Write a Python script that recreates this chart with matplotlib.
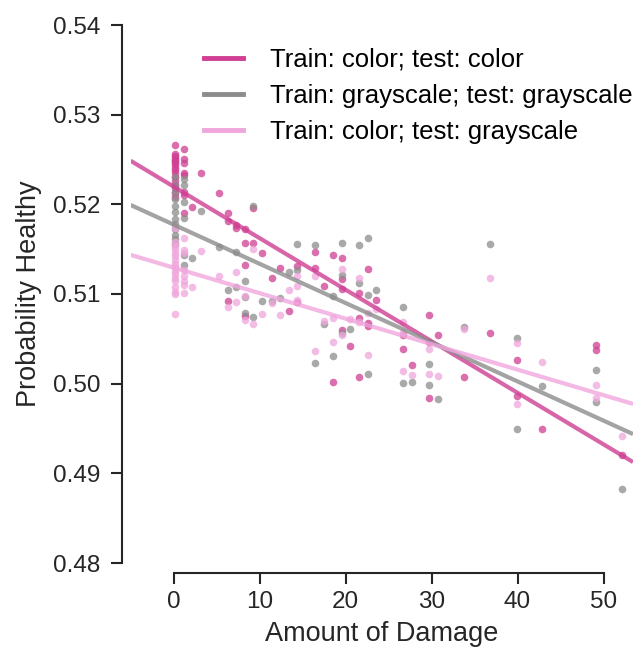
import numpy as np
import matplotlib
matplotlib.use("Agg")
import matplotlib.pyplot as plt
from matplotlib.lines import Line2D

# ---------------- data ----------------
labels = ["Train: color; test: color",
          "Train: grayscale; test: grayscale",
          "Train: color; test: grayscale"]

cc_x = [0.2]*17 + [1.2]*8 + [2.2, 3.2, 5.3, 6.3, 6.3, 6.3, 7.3, 7.3, 8.3, 8.3, 8.3, 8.3,
        9.3, 9.3, 10.3, 11.4, 12.4, 13.4, 14.4, 14.4, 16.5, 16.5, 17.5, 18.5, 18.5,
        19.6, 19.6, 19.6, 19.6, 20.5, 21.6, 21.6, 21.6, 22.6, 22.6, 22.6, 23.6,
        26.7, 26.7, 27.7, 29.7, 29.7, 29.7, 30.7, 33.8, 36.8, 39.9, 39.9, 42.9,
        49.1, 49.1, 52.1]
cc_y = [0.5266, 0.5256, 0.5254, 0.5252, 0.5250, 0.5248, 0.5246, 0.5244, 0.5241,
        0.5238, 0.5235, 0.5230, 0.5226, 0.5222, 0.5218, 0.5213, 0.5208,
        0.5262, 0.5251, 0.5246, 0.5235, 0.5233, 0.5214, 0.5210, 0.5190,
        0.5197, 0.5235, 0.5213, 0.5190, 0.5181, 0.5092, 0.5177, 0.5174, 0.5172,
        0.5157, 0.5132, 0.5075, 0.5196, 0.5157, 0.5146, 0.5118, 0.5129, 0.5081,
        0.5131, 0.5091, 0.5147, 0.5129, 0.5109, 0.5143, 0.5002, 0.5140, 0.5117,
        0.5106, 0.5060, 0.5042, 0.5101, 0.5073, 0.5007, 0.5128, 0.5068, 0.5064,
        0.5093, 0.5054, 0.5039, 0.5021, 0.5077, 0.5047, 0.4984, 0.5054, 0.5007,
        0.5057, 0.5026, 0.4986, 0.4950, 0.5043, 0.5038, 0.4920]

gg_x = [0.2]*12 + [1.2]*6 + [2.2, 3.2, 5.3, 6.3, 7.3, 7.3, 8.3, 8.3, 8.3, 9.3, 9.3,
        10.3, 11.4, 12.4, 13.4, 14.4, 14.4, 16.5, 16.5, 17.5, 18.5, 18.5, 19.6,
        19.6, 19.6, 20.5, 21.6, 21.6, 22.6, 22.6, 22.6, 23.6, 26.7, 26.7, 27.7,
        29.7, 29.7, 30.7, 33.8, 36.8, 39.9, 39.9, 42.9, 49.1, 49.1, 52.1]
gg_y = [0.5230, 0.5222, 0.5214, 0.5206, 0.5198, 0.5191, 0.5184, 0.5178, 0.5172,
        0.5166, 0.5161, 0.5156,
        0.5228, 0.5222, 0.5203, 0.5185, 0.5143, 0.5132,
        0.5140, 0.5193, 0.5152, 0.5104, 0.5147, 0.5108, 0.5114, 0.5097, 0.5079,
        0.5198, 0.5074, 0.5092, 0.5092, 0.5095, 0.5124, 0.5156, 0.5127, 0.5155,
        0.5023, 0.5067, 0.5098, 0.5031, 0.5157, 0.5121, 0.5056, 0.5061, 0.5155,
        0.5112, 0.5162, 0.5099, 0.5011, 0.5105, 0.5086, 0.5001, 0.5002, 0.5022,
        0.4999, 0.4983, 0.5063, 0.5156, 0.5051, 0.4950, 0.4997, 0.5015, 0.4980,
        0.4883]

cg_x = [0.2]*17 + [1.2]*8 + [2.2, 3.2, 5.3, 6.3, 7.3, 7.3, 8.3, 8.3, 9.3, 9.3, 10.3,
        11.4, 12.4, 13.4, 14.4, 14.4, 14.4, 16.5, 16.5, 17.5, 18.5, 18.5, 19.6,
        19.6, 20.5, 21.6, 21.6, 22.6, 22.6, 23.6, 26.7, 26.7, 26.7, 27.7, 29.7,
        29.7, 30.7, 33.8, 36.8, 39.9, 39.9, 42.9, 49.1, 49.1, 52.1]
cg_y = [0.5174, 0.5158, 0.5154, 0.5150, 0.5146, 0.5142, 0.5138, 0.5134, 0.5130,
        0.5126, 0.5122, 0.5118, 0.5114, 0.5108, 0.5102, 0.5100, 0.5078,
        0.5162, 0.5149, 0.5146, 0.5127, 0.5120, 0.5115, 0.5110, 0.5101,
        0.5108, 0.5148, 0.5120, 0.5086, 0.5124, 0.5091, 0.5098, 0.5071, 0.5150,
        0.5067, 0.5078, 0.5090, 0.5077, 0.5104, 0.5120, 0.5109, 0.5093, 0.5120,
        0.5036, 0.5070, 0.5073, 0.5047, 0.5128, 0.5054, 0.5072, 0.5118, 0.5069,
        0.5079, 0.5032, 0.5083, 0.5069, 0.5058, 0.5014, 0.5010, 0.5039, 0.5011,
        0.5008, 0.5061, 0.5118, 0.5045, 0.4977, 0.5024, 0.4999, 0.4984, 0.4942]

colors = ["#cf3f93", "#8c8c8c", "#f0a6dc"]
series = [(cc_x, cc_y), (gg_x, gg_y), (cg_x, cg_y)]

xticks = [0, 10, 20, 30, 40, 50]
yticks = [0.48, 0.49, 0.50, 0.51, 0.52, 0.53, 0.54]

# ---------------- figure ----------------
plt.rcParams['font.family'] = ['Liberation Sans', 'DejaVu Sans']
fig = plt.figure(figsize=(6.33, 6.5), dpi=100)
ax = fig.add_axes([130.5/633, 87/650, (633-130.5)/633, (563-25)/650])
xlim = (-5, 53.43)
ax.set_xlim(*xlim)
ax.set_ylim(0.48, 0.54)

for (xs, ys), c in zip(series, colors):
    ax.scatter(xs, ys, s=30, color=c, alpha=0.75, linewidths=0, zorder=2)
for (xs, ys), c in zip(series, colors):
    b, a = np.polyfit(np.asarray(xs), np.asarray(ys), 1)
    gx = np.linspace(xlim[0], xlim[1], 100)
    ax.plot(gx, a + b*gx, color=c, lw=3.0, alpha=0.8, zorder=3, solid_capstyle='butt')

ax.set_xticks(xticks)
ax.set_yticks(yticks)
ax.set_yticklabels([f"{v:.2f}" for v in yticks])
for s in ['top', 'right']:
    ax.spines[s].set_visible(False)
ax.spines['left'].set_position(('outward', 6.2))
ax.spines['bottom'].set_position(('outward', 7.2))
ax.spines['bottom'].set_bounds(0, 50)
for s in ['left', 'bottom']:
    ax.spines[s].set_linewidth(1.5)
    ax.spines[s].set_color('#262626')
ax.tick_params(direction='out', length=8, width=1.5, color='#262626',
               labelsize=17.5, labelcolor='#262626')
ax.tick_params(axis='y', pad=7.5)
ax.tick_params(axis='x', pad=5)
ax.set_xlabel("Amount of Damage", fontsize=19.5, color='#262626', labelpad=5.5)
ax.set_ylabel("Probability Healthy", fontsize=19.5, color='#262626', labelpad=8)

handles = [Line2D([0], [0], color=c, lw=3.5) for c in colors]
fig.legend(handles, labels, loc='upper left', bbox_to_anchor=(204/633, 1 - 48/650),
           frameon=False, fontsize=18.5, handlelength=1.5, handletextpad=1.05,
           labelspacing=0.46, borderpad=0, borderaxespad=0)
fig.savefig("out.png", dpi=100)
